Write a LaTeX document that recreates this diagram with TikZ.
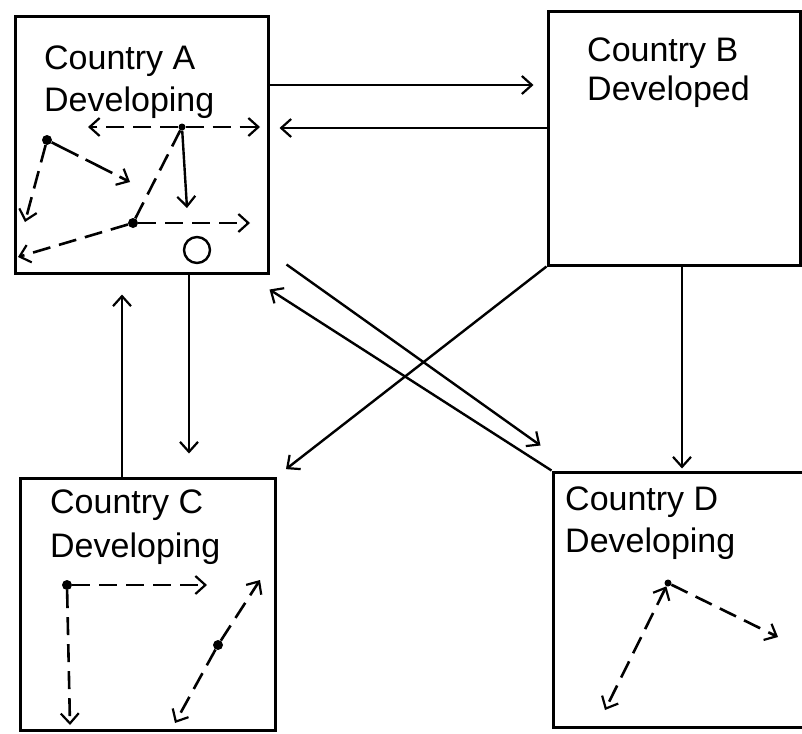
\documentclass[tikz,border=0pt]{standalone}
\usepackage{fontspec}
\setmainfont{Liberation Sans}
\usetikzlibrary{arrows.meta}
\begin{document}
\begin{tikzpicture}[x=1pt, y=-1pt,
    >={Straight Barb[length=10pt,width=18pt,line width=2.2pt]},
    country/.style={draw, line width=3pt, inner sep=0pt},
    cname/.style={anchor=base west, inner sep=0pt, font=\fontsize{34}{40}\selectfont},
    flow/.style={->, line width=2.4pt},
    move/.style={->, line width=2.6pt, dash pattern=on 18pt off 9pt},
    dot/.style={circle, fill, inner sep=0pt, minimum size=10pt}]
  \useasboundingbox (0,0) rectangle (802,733);

  % Country boxes
  \node[country, minimum width=253pt, minimum height=256pt] (A) at (141.5,145) {};
  \node[country, minimum width=252pt, minimum height=253pt] (B) at (674,138.5) {};
  \node[country, minimum width=255pt, minimum height=252pt] (C) at (147.5,604) {};
  \node[country, minimum width=253pt, minimum height=255pt] (D) at (679.5,599.5) {};

  % Box labels
  \node[cname] (Aname) at (44,70) {Country A};
  \node[cname] (Atype) at (44,112) {Developing};
  \node[cname] (Bname) at (587,62) {Country B};
  \node[cname] (Btype) at (587,100) {Developed};
  \node[cname] (Cname) at (50,513) {Country C};
  \node[cname] (Ctype) at (50,557) {Developing};
  \node[cname] (Dname) at (565,510) {Country D};
  \node[cname] (Dtype) at (565,552) {Developing};

  % Flows between countries
  \draw[flow, shorten >=13pt] ([yshift=60pt]A.east) -- ([yshift=53.5pt]B.west);
  \draw[flow, shorten >=10pt] ([yshift=10.5pt]B.west) -- ([yshift=17pt]A.east);
  \draw[flow, shorten >=23pt] ([xshift=47.5pt]A.south) -- ([xshift=41.5pt]C.north);
  \draw[flow, shorten >=20pt] ([xshift=-25.5pt]C.north) -- ([xshift=-19.5pt]A.south);
  \draw[flow, shorten >=2pt] ([xshift=8pt]B.south) -- ([xshift=2.5pt]D.north);
  \draw[flow, shorten >=12pt] (B.south west) -- (C.north east);
  \draw[flow] ([shift={(17pt,10pt)}]A.south east) -- ([shift={(-11pt,25pt)}]D.north west);
  \draw[flow] (D.north west) -- ([yshift=-15pt]A.south east);

  % Moves inside Country A
  \node[dot, minimum size=7pt] (a1) at (182,127) {};
  \node[dot] (a2) at (133,223) {};
  \node[dot] (a3) at (47,140) {};
  \node[circle, draw, line width=2.4pt, minimum size=26pt] (a0) at (197,250) {};
  \coordinate (a1w) at (88,127);
  \coordinate (a1e) at (260,127);
  \coordinate (a1s) at (187,208);
  \coordinate (a2e) at (250,223);
  \coordinate (a2w) at (18,257);
  \coordinate (a3e) at (130,182);
  \coordinate (a3s) at (25,222);
  \draw[move] (a1) -- (a1w);
  \draw[move] (a1) -- (a1e);
  \draw[flow] (a1) -- (a1s);
  \draw[move, -] (a1) -- (a2);
  \draw[move] (a2) -- (a2e);
  \draw[move] (a2) -- (a2w);
  \draw[move, dash pattern=on 30pt off 8pt] (a3) -- (a3e);
  \draw[move] (a3) -- (a3s);

  % Moves inside Country C
  \node[dot] (c1) at (67,585) {};
  \node[dot] (c2) at (218,645) {};
  \coordinate (c1e) at (207,585);
  \coordinate (c1s) at (70,725);
  \coordinate (c2n) at (260,580);
  \coordinate (c2s) at (175,723);
  \draw[move] (c1) -- (c1e);
  \draw[move] (c1) -- (c1s);
  \draw[move] (c2) -- (c2n);
  \draw[move] (c2) -- (c2s);

  % Moves inside Country D
  \node[dot, minimum size=7pt] (d1) at (668,583) {};
  \coordinate (d1s) at (605,710);
  \coordinate (d1e) at (778,637);
  \draw[move, <->] (d1) -- (d1s);
  \draw[move] (d1) -- (d1e);
\end{tikzpicture}
\end{document}
